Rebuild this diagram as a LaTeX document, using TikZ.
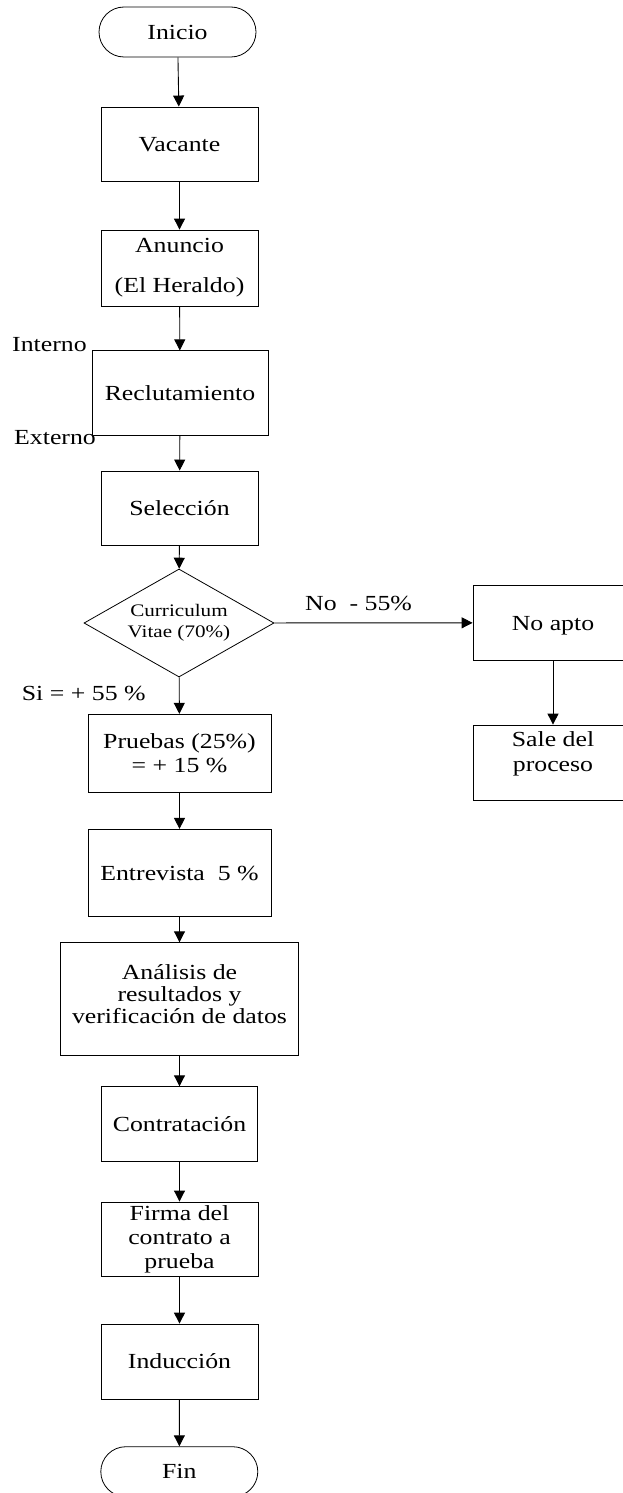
\documentclass[tikz,border=0pt]{standalone}
\usepackage{fontspec}
\setmainfont{Liberation Serif}[FakeStretch=1.2]
\usetikzlibrary{shapes.geometric,shapes.misc,arrows.meta}

\begin{document}
\begin{tikzpicture}[x=1pt,y=-1pt,
  base font/.style={font=\fontsize{21.5}{24}\selectfont},
  box/.style={draw, rectangle, line width=0.8pt, inner sep=0pt, base font, align=center},
  one/.style={text height=14.5pt, text depth=0pt},
  term/.style={draw, rounded rectangle, line width=0.8pt, inner sep=0pt,
    minimum width=157, minimum height=50, base font, one},
  decision/.style={draw, diamond, aspect=1.76, line width=0.8pt, inner sep=0pt,
    minimum width=190, minimum height=108, align=center,
    font=\fontsize{17.6}{21}\selectfont},
  lbl/.style={inner sep=0pt, anchor=base west, base font},
  flow/.style={-{Triangle[length=11pt,width=11pt]}, line width=0.9pt}
]
\useasboundingbox (0,0) rectangle (623,1493);

% main column
\node[term] (inicio) at (177.5,32) {Inicio};
\node[box, one, minimum width=157, minimum height=74.7] (vacante) at (179.5,144.3) {Vacante};
\node[box, minimum width=157, minimum height=76, font=\fontsize{21.5}{40}\selectfont] (anuncio) at (179.5,268) {Anuncio\\(El Heraldo)};
\node[box, one, minimum width=176, minimum height=84.3] (reclut) at (180,393) {Reclutamiento};
\node[box, one, minimum width=157, minimum height=74.7] (seleccion) at (179.5,508.3) {Selección};
\node[decision] (cv) at (179,623) {Curriculum\\Vitae (70\%)};
\node[box, minimum width=183, minimum height=78.4] (pruebas) at (179.5,753.5) {Pruebas (25\%)\\= + 15 \%};
\node[box, one, minimum width=183, minimum height=87.4] (entrevista) at (179.5,873) {Entrevista\ \ 5 \%};
\node[box, minimum width=237.6, minimum height=113, font=\fontsize{21.5}{21.7}\selectfont] (analisis) at (179.5,999.2)
  {Análisis de\\resultados y\\verificación de datos\rule[-10pt]{0pt}{10pt}};
\node[box, one, minimum width=156.4, minimum height=75] (contrat) at (179.5,1124.2) {Contratación};
\node[box, minimum width=157, minimum height=74.7] (firma) at (179.5,1239.3) {Firma del\\contrato a\\prueba};
\node[box, one, minimum width=157, minimum height=75] (induccion) at (179.5,1361.5) {Inducción};
\node[term] (fin) at (179.3,1471.7) {Fin};

% rejected branch
\node[box, one, minimum width=160, minimum height=74.3] (noapto) at (553,622.8) {No apto};
\node[box, minimum width=160, minimum height=75, font=\fontsize{21.5}{25}\selectfont] (sale) at (553,762.5)
  {Sale del\\proceso\rule[-21pt]{0pt}{21pt}};

% side labels
\node[lbl] (interno) at (12,351.7) {Interno};
\node[lbl] (externo) at (14,444) {Externo};
\node[lbl] (nolbl) at (305,610) {No\ \ - 55\%};
\node[lbl] (silbl) at (21.7,700.7) {Si = + 55 \%};

% connectors
\draw[flow] (inicio) -- (vacante);
\draw[flow] (vacante) -- (anuncio);
\draw[flow] (anuncio) -- (reclut);
\draw[flow] (reclut) -- (seleccion);
\draw[flow] (seleccion) -- (cv);
\draw[flow] (cv) -- (pruebas);
\draw[flow] (cv) -- (noapto);
\draw[flow] (noapto) -- (sale);
\draw[flow] (pruebas) -- (entrevista);
\draw[flow] (entrevista) -- (analisis);
\draw[flow] (analisis) -- (contrat);
\draw[flow] (contrat) -- (firma);
\draw[flow] (firma) -- (induccion);
\draw[flow] (induccion) -- (fin);
\end{tikzpicture}
\end{document}
